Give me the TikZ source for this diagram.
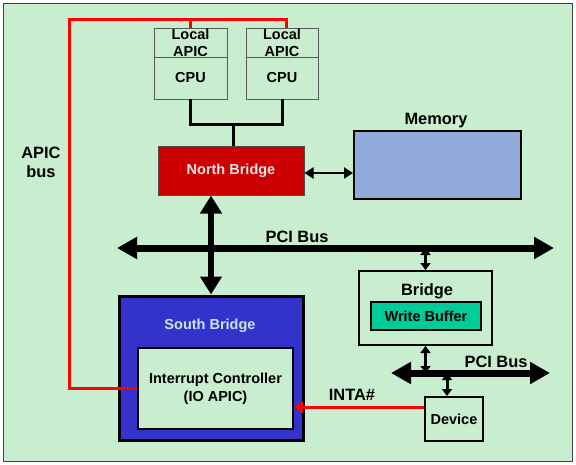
\documentclass[tikz,border=0pt]{standalone}
\usepackage{fontspec}
\setmainfont{Liberation Sans}
\usepackage{tikz}
\usetikzlibrary{arrows.meta}
\pgfdeclarelayer{background}
\pgfdeclarelayer{foreground}
\pgfsetlayers{background,main,foreground}
\definecolor{panelgreen}{RGB}{200,237,207}
\definecolor{nbred}{RGB}{204,0,0}
\definecolor{memblue}{RGB}{145,172,218}
\definecolor{sbblue}{RGB}{51,51,204}
\definecolor{wbteal}{RGB}{0,204,153}
\definecolor{sbtext}{RGB}{205,226,240}
\newcommand{\smallbf}{\fontsize{14.5}{17}\selectfont\bfseries}
\newcommand{\bigbf}{\fontsize{16.4}{19}\selectfont\bfseries}

\begin{document}
\begin{tikzpicture}[x=1pt,y=-1pt,
							cpubox/.style={rectangle, draw=black!65, line width=0.9pt, fill=panelgreen, inner sep=0pt, align=center, font=\smallbf},
							blockbox/.style={rectangle, draw=black, line width=2pt, inner sep=0pt, align=center, font=\smallbf},
							label/.style={font=\bigbf, inner sep=0pt, align=center},
							busline/.style={line width=7pt, {Triangle[length=20pt,width=21pt]}-{Triangle[length=20pt,width=21pt]}},
							linkline/.style={line width=3pt, {Triangle[length=7pt,width=10pt]}-{Triangle[length=7pt,width=10pt]}},
							redbus/.style={line width=3pt, draw=red},
							]
							\useasboundingbox (0,0) rectangle (576,464);
							%Nodes
							\node[cpubox, minimum width=73, minimum height=29]	(lapicA)	at	(190.5,42.5)	{Local\\APIC};
							\node[cpubox, minimum width=73, minimum height=42]	(cpuA)	at	(190.5,78)	{CPU};
							\node[cpubox, minimum width=72, minimum height=29]	(lapicB)	at	(282,42.5)	{Local\\APIC};
							\node[cpubox, minimum width=72, minimum height=42]	(cpuB)	at	(282,78)	{CPU};
							\node[blockbox, draw=black!70, line width=1pt, fill=nbred, text=black!10, minimum width=146, minimum height=49]	(nb)	at	(231,170.5)	{North Bridge};
							\node[blockbox, fill=memblue, minimum width=167, minimum height=68]	(mem)	at	(437.5,165)	{};
							\node[label]	(memlabel)	at	(436,121)	{Memory};
							\node[label]	(apiclabel)	at	(41,162)	{APIC\\bus};
							\node[blockbox, line width=3pt, fill=sbblue, minimum width=184, minimum height=144]	(sb)	at	(211,368)	{};
							\node[font=\smallbf, text=sbtext]	(sblabel)	at	(210,326)	{South Bridge};
							\node[blockbox, line width=1.5pt, fill=panelgreen, minimum width=155, minimum height=81, font=\fontsize{14.5}{18}\selectfont\bfseries]	(ic)	at	(215.5,388.5)	{Interrupt Controller\\(IO APIC)};
							\node[blockbox, fill=panelgreen, minimum width=133, minimum height=74]	(bridge)	at	(425.5,308)	{};
							\node[label]	(bridgelabel)	at	(427,291)	{Bridge};
							\node[blockbox, fill=wbteal, minimum width=110, minimum height=28]	(wb)	at	(426,316)	{Write Buffer};
							\node[blockbox, fill=panelgreen, minimum width=58, minimum height=44]	(dev)	at	(454,419)	{Device};
							\node[label]	(pcilabel)	at	(297,237)	{PCI Bus};
							\node[label]	(pcilabelB)	at	(496,362)	{PCI Bus};
							\node[label]	(intalabel)	at	(352,395)	{INTA\#};

							\coordinate	(pciL)	at	(117,248);
							\coordinate	(pciR)	at	(554,248);
							\coordinate	(pciBL)	at	(391,373);
							\coordinate	(pciBR)	at	(550,373);
							\coordinate	(cpuj)	at	(233,124);
							\coordinate	(apicTL)	at	(69,19);

							\begin{pgfonlayer}{background}
							\fill[white] (0,0) rectangle (576,464);
							\draw[fill=panelgreen, draw=black!75, line width=1pt] (3,3) rectangle (572,461);
							\end{pgfonlayer}

							\draw[line width=3pt] (cpuA.south) |- (cpuB.south |- cpuj) -- (cpuB.south);
							\draw[line width=3pt] (cpuj) -- (cpuj |- nb.north);
							\draw[line width=2.5pt, {Triangle[length=9pt,width=11pt]}-{Triangle[length=9pt,width=11pt]}] (nb.east |- 0,173) -- (mem.west |- 0,173);
							\draw[busline] (pciL) -- (pciR);
							\draw[line width=6pt, {Triangle[length=18pt,width=21pt]}-{Triangle[length=18pt,width=21pt]}] (nb.south -| sb.north) -- (sb.north);
							\draw[linkline] (bridge.north |- pciL) -- (bridge.north);
							\draw[busline] (pciBL) -- (pciBR);
							\draw[linkline] (bridge.south) -- (bridge.south |- pciBL);
							\draw[linkline] ([xshift=-7pt]dev.north |- pciBL) -- ([xshift=-7pt]dev.north);
							\draw[redbus, -{Triangle[length=9pt,width=11pt]}] ([yshift=12pt]dev.west) -- ([yshift=12pt]dev.west -| ic.east);
							\draw[redbus] (ic.west) -| (apicTL) -| ([xshift=4pt]lapicB.north);
							\draw[redbus] (lapicA.north) -- (lapicA.north |- apicTL);
						\end{tikzpicture}
\end{document}
